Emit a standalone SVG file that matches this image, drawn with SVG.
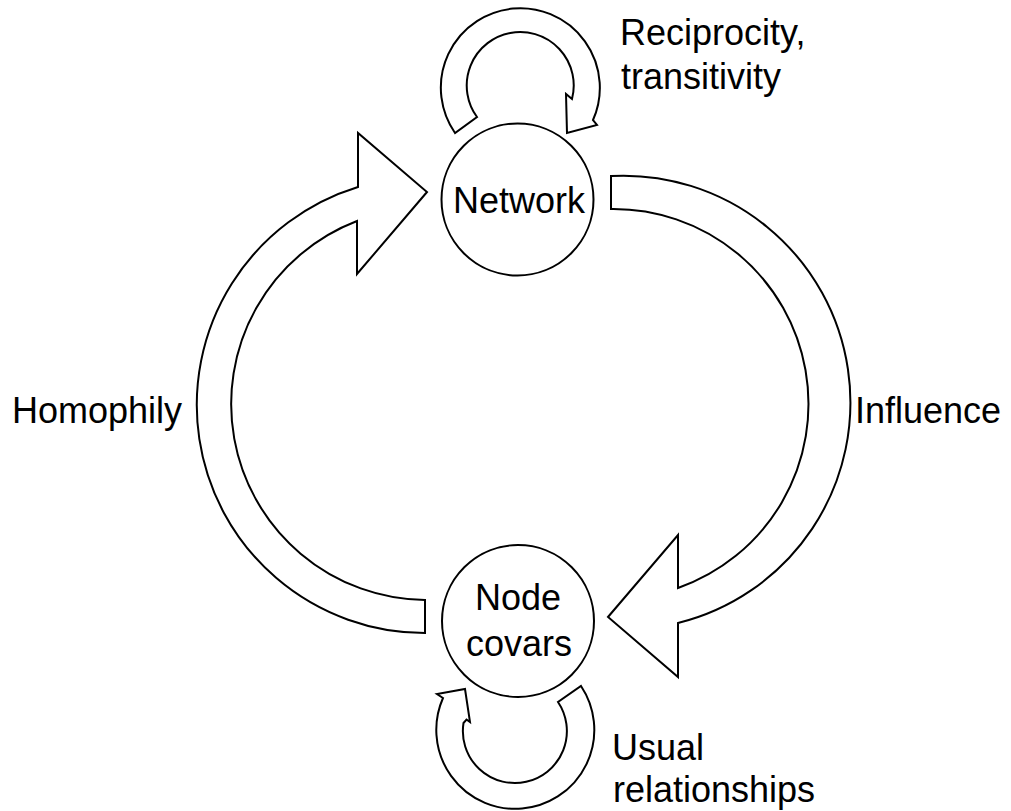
<svg xmlns="http://www.w3.org/2000/svg" width="1011" height="811" viewBox="0 0 1011 811">
<style>
.shape{fill:#fff;stroke:#000;stroke-width:2;stroke-linejoin:miter}
.t{font-family:"Liberation Sans",Arial,sans-serif;font-size:36px;fill:#000}
.c{text-anchor:middle}
</style>
<rect width="1011" height="811" fill="#fff"/>
<g id="connectors">
<path id="influence-arrow" class="shape" d="M 611 176 A 227 227 0 0 1 678 623 L 678 677 L 608 617 L 678 535 L 678 588 A 195 195 0 0 0 611 209 Z"/>
<path id="homophily-arrow" class="shape" d="M 425 633 A 228 228 0 0 1 358 187 L 358 133 L 427 192 L 357 274 L 357 221 A 196 196 0 0 0 425 600 Z"/>
<path id="reciprocity-loop" class="shape" d="M 455 133 A 79.5 79.5 0 1 1 593 120 L 597 125 L 567 133 L 566 94 L 572 99 A 53.5 53.5 0 1 0 477 117 Z"/>
<path id="usual-loop" class="shape" d="M 581 686 A 79 79 0 1 1 443 698 L 437 694 L 465 689 L 470 722 L 466.5 719.5 L 463.5 723 A 52 52 0 1 0 558 702 Z"/>
</g>
<g id="network">
<circle class="shape" cx="517.5" cy="199.5" r="76"/>
<text class="t c" x="519" y="213">Network</text>
</g>
<g id="node-covars">
<circle class="shape" cx="518" cy="621" r="76"/>
<text class="t c" x="518" y="610">Node</text>
<text class="t c" x="519" y="656">covars</text>
</g>
<g id="labels">
<text class="t" x="620" y="45">Reciprocity,</text>
<text class="t" x="621" y="89">transitivity</text>
<text class="t" x="12" y="423">Homophily</text>
<text class="t" x="855" y="423">Influence</text>
<text class="t" x="612" y="760">Usual</text>
<text class="t" x="613" y="802">relationships</text>
</g>
</svg>
